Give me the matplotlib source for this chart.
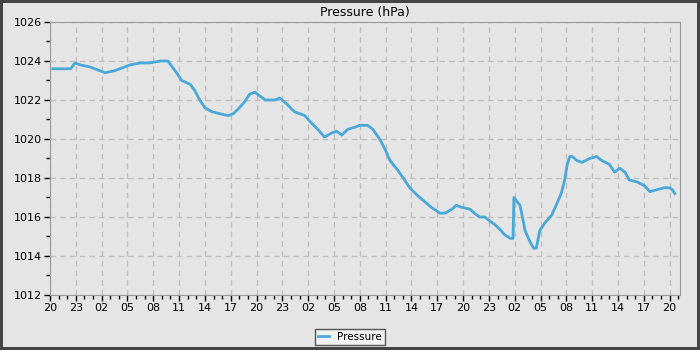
import datetime as dt
import matplotlib
matplotlib.use("Agg")
import matplotlib.pyplot as plt
import matplotlib.dates as mdates

# hours since the start (20:00) and pressure readings in hPa
hours = [0.35, 1.5, 2.4, 2.9, 3.5, 4.6, 5.8, 6.4, 7.5, 8.7, 9.3, 10.5, 11.6,
         12.8, 13.7, 14.2, 14.7, 15.3, 16.3, 16.8, 17.4, 18.0, 18.8, 19.7,
         20.7, 21.3, 22.0, 22.6, 23.2, 23.8, 24.4, 25.0, 26.1, 26.7, 27.5,
         28.4, 29.6, 30.2, 31.1, 31.9, 32.7, 33.3, 33.9, 34.6, 35.4, 36.0,
         36.9, 37.5, 38.3, 38.9, 39.5, 40.4, 41.2, 41.8, 42.7, 43.5, 44.3,
         45.3, 45.9, 46.7, 47.2, 47.8, 48.8, 49.3, 49.9, 50.5, 51.1, 51.7,
         52.2, 52.8, 53.5, 53.8, 53.9, 54.6, 54.8, 55.2, 55.8, 56.2, 56.5,
         56.9, 57.5, 58.3, 58.8, 59.4, 59.8, 60.1, 60.4, 60.7, 61.2, 61.8,
         62.7, 63.5, 64.1, 65.0, 65.6, 66.2, 66.8, 67.3, 68.2, 69.1, 69.7,
         70.5, 71.4, 72.0, 72.3, 72.6]
pressure = [1023.6, 1023.6, 1023.6, 1023.9, 1023.8, 1023.7, 1023.5, 1023.4,
            1023.5, 1023.7, 1023.8, 1023.9, 1023.9, 1024.0, 1024.0, 1023.7,
            1023.4, 1023.0, 1022.8, 1022.5, 1022.0, 1021.6, 1021.4, 1021.3,
            1021.2, 1021.3, 1021.6, 1021.9, 1022.3, 1022.4, 1022.2, 1022.0,
            1022.0, 1022.1, 1021.8, 1021.4, 1021.2, 1020.9, 1020.5, 1020.1,
            1020.3, 1020.4, 1020.2, 1020.5, 1020.6, 1020.7, 1020.7, 1020.5,
            1020.0, 1019.5, 1018.9, 1018.4, 1017.9, 1017.5, 1017.1, 1016.8,
            1016.5, 1016.2, 1016.2, 1016.4, 1016.6, 1016.5, 1016.4, 1016.2,
            1016.0, 1016.0, 1015.8, 1015.6, 1015.4, 1015.1, 1014.9, 1014.9,
            1017.0, 1016.6, 1016.2, 1015.3, 1014.7, 1014.4, 1014.4, 1015.3,
            1015.7, 1016.1, 1016.6, 1017.2, 1017.9, 1018.7, 1019.1, 1019.1,
            1018.9, 1018.8, 1019.0, 1019.1, 1018.9, 1018.7, 1018.3, 1018.5,
            1018.3, 1017.9, 1017.8, 1017.6, 1017.3, 1017.4, 1017.5, 1017.5,
            1017.4, 1017.2]

start = dt.datetime(2024, 1, 1, 20, 0)
times = [start + dt.timedelta(hours=h) for h in hours]

bg = "#e5e5e5"
fig = plt.figure(figsize=(7, 3.5), dpi=100, facecolor=bg,
                 edgecolor="#444444", linewidth=4)
ax = fig.add_axes([50 / 700, 55 / 350, 630 / 700, 273 / 350])
ax.set_facecolor(bg)

ax.plot(times, pressure, color="#4aa8d8", linewidth=2, label="Pressure")

ax.set_xlim(start, start + dt.timedelta(hours=73.2))
ax.set_ylim(1012, 1026)
ax.set_yticks(range(1012, 1027, 2))
ax.set_yticks(range(1013, 1026, 2), minor=True)
ax.xaxis.set_major_locator(mdates.HourLocator(byhour=range(2, 24, 3)))
ax.xaxis.set_minor_locator(mdates.HourLocator())
ax.xaxis.set_major_formatter(mdates.DateFormatter("%H"))

ax.grid(True, which="major", color="#c0c0c0", linestyle=(0, (4, 3)), linewidth=1)
for s in ax.spines.values():
    s.set_color("#999999")
ax.tick_params(which="major", direction="out", length=4, width=1,
               color="black", labelsize=8, pad=2)
ax.tick_params(which="minor", direction="out", length=3, width=1, color="black")

ax.set_title("Pressure (hPa)", fontsize=9, pad=4)

fig.legend(loc="lower center", bbox_to_anchor=(0.5, 0.0), fontsize=7.5,
           frameon=True, fancybox=False, edgecolor="#555555",
           facecolor="#f2f2f2", framealpha=1, handlelength=1,
           borderpad=0.3)

fig.savefig("out.png", dpi=100, facecolor=bg, edgecolor=fig.get_edgecolor())
